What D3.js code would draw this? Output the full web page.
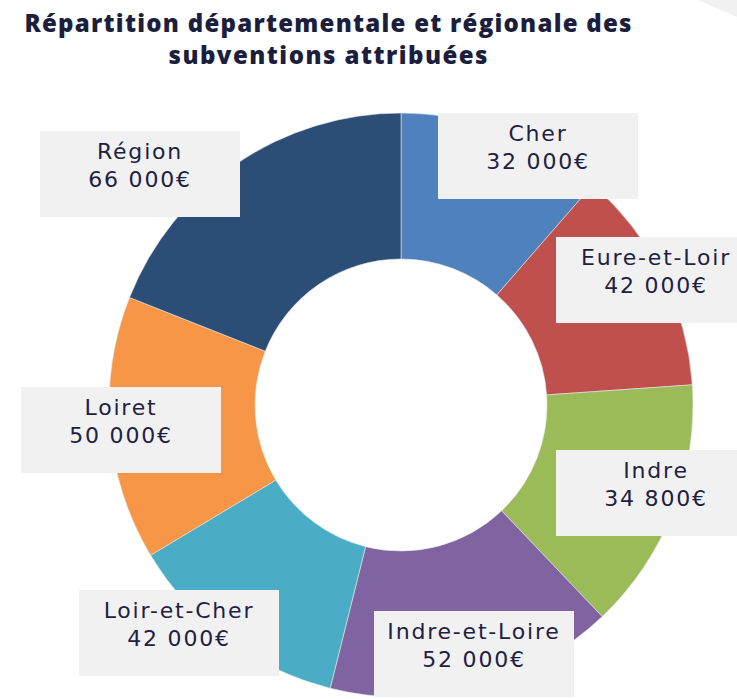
<!DOCTYPE html>
<html>
<head>
<meta charset="utf-8">
<script src="https://cdn.jsdelivr.net/npm/d3@7"></script>
<style>
  body { margin: 0; background: #fff; }
  svg { display: block; }
</style>
</head>
<body>
<svg id="chart" width="737" height="699"></svg>
<script>
// data
const categories = ['Cher', 'Eure-et-Loir', 'Indre', 'Indre-et-Loire', 'Loir-et-Cher', 'Loiret', 'Région'];
const amounts = [32000, 42000, 34800, 52000, 42000, 50000, 66000];
// slice sizes as drawn (percent of the ring), they do not follow the amounts
const sliceShares = [11.4, 12.5, 14.0, 16.0, 12.5, 14.6, 19.0];
const titleLines = ['Répartition départementale et régionale des', 'subventions attribuées'];

const colors = ['#4f81bd', '#c0504d', '#9bbb59', '#8064a2', '#4bacc6', '#f79646', '#2c4d75'];
// top-left corner of each label box
const labelBoxes = [[438, 113], [556, 237], [556, 450], [374, 611], [79, 590], [21, 387], [40, 131]];

const svg = d3.select('#chart');
const cx = 401, cy = 405;

// grey corner shape at top right
svg.append('path')
  .attr('d', 'M698,0 L737,0 L737,17 Z')
  .attr('fill', '#f1f1f1');

const title = svg.append('text')
  .attr('text-anchor', 'middle')
  .attr('font-family', 'Open Sans, sans-serif')
  .attr('font-weight', 800)
  .attr('font-size', 24)
  .attr('fill', '#1b1e3c');
title.selectAll('tspan')
  .data(titleLines)
  .join('tspan')
  .attr('x', 328)
  .attr('y', (d, i) => 32 + i * 32)
  .attr('textLength', (d, i) => i === 0 ? 607 : 319)
  .attr('lengthAdjust', 'spacing')
  .text(d => d);

const pie = d3.pie().sort(null).value(d => d.share);
const arc = d3.arc().innerRadius(146).outerRadius(292);

const rows = categories.map((c, i) => ({ name: c, amount: amounts[i], share: sliceShares[i] }));

svg.append('g')
  .attr('transform', `translate(${cx},${cy})`)
  .selectAll('path')
  .data(pie(rows))
  .join('path')
  .attr('d', arc)
  .attr('fill', (d, i) => colors[i])
  .attr('stroke', '#e6e6e6')
  .attr('stroke-width', 0.6);

const fmt = v => d3.format(',')(v).replace(/,/g, ' ') + '€';

const labels = svg.append('g')
  .selectAll('g')
  .data(rows)
  .join('g')
  .attr('transform', (d, i) => `translate(${labelBoxes[i][0]},${labelBoxes[i][1]})`);

labels.append('rect')
  .attr('width', 200)
  .attr('height', 86)
  .attr('fill', '#f1f1f1');

const lineText = (y, fn) => labels.append('text')
  .attr('x', 100)
  .attr('y', y)
  .attr('text-anchor', 'middle')
  .attr('font-family', 'DejaVu Sans, sans-serif')
  .attr('font-size', 22)
  .attr('letter-spacing', 1.8)
  .attr('fill', '#1e2143')
  .text(fn);

lineText(28, d => d.name);
lineText(56, d => fmt(d.amount));
</script>
</body>
</html>
